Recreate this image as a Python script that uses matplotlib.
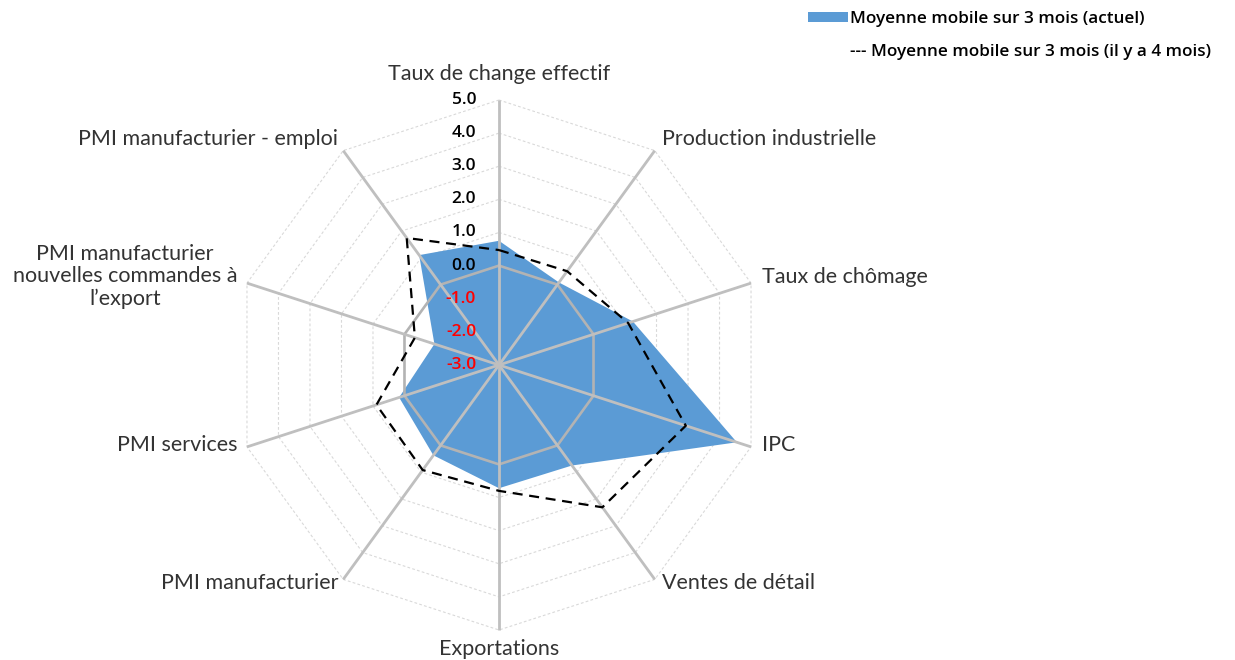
import numpy as np
import matplotlib
matplotlib.use("Agg")
import matplotlib.pyplot as plt
from matplotlib.patches import Patch
from matplotlib.lines import Line2D

# ---------------- data ----------------
categories = ["Taux de change effectif", "Production industrielle", "Taux de chômage", "IPC",
              "Ventes de détail", "Exportations", "PMI manufacturier", "PMI services",
              "PMI manufacturier\nnouvelles commandes à\nl’export", "PMI manufacturier - emploi"]
actuel = [0.75, 0.08, 1.25, 4.55, 0.75, 0.72, 0.37, 0.17, -0.95, 1.10]
il_y_a_4_mois = [0.47, 0.50, 1.10, 2.93, 2.31, 0.80, 0.92, 0.89, -0.33, 1.74]
ticks = [-3, -2, -1, 0, 1, 2, 3, 4, 5]
tick_labels = ["-3.0", "-2.0", "-1.0", "0.0", "1.0", "2.0", "3.0", "4.0", "5.0"]
series_labels = ["Moyenne mobile sur 3 mois (actuel)",
                 "--- Moyenne mobile sur 3 mois (il y a 4 mois)"]

# ---------------- layout / style ----------------
RMIN, RMAX = -3, 5
W, H, DPI = 1235, 660, 100
CX, CY, RPIX = 499, 365, 265
scale = RPIX / (RMAX - RMIN)
LABEL_FONT = "Lato"
TEXT_FONT = "Open Sans"
BLUE = "#5B9BD5"
SPOKE = "#BFBFBF"

fig = plt.figure(figsize=(W / DPI, H / DPI), dpi=DPI)
ax = fig.add_axes([0, 0, 1, 1])
ax.set_xlim(-CX / scale, (W - CX) / scale)
ax.set_ylim(-(H - CY) / scale, CY / scale)
ax.axis("off")

n = len(categories)
theta = np.arange(n) * 2 * np.pi / n


def polar_xy(values):
    r = np.asarray(values, dtype=float) - RMIN
    return r * np.sin(theta), r * np.cos(theta)


def closed(a):
    return np.append(a, a[0])


# grid rings
for t in ticks[1:]:
    x, y = polar_xy([t] * n)
    if t == 0:
        ax.plot(closed(x), closed(y), color="#B3B3B3", lw=1.9, zorder=3)
    else:
        ax.plot(closed(x), closed(y), color="#D9D9D9", lw=0.8,
                linestyle=(0, (2.5, 2)), zorder=1)

# current series (filled)
x, y = polar_xy(actuel)
ax.fill(x, y, color=BLUE, zorder=2, lw=0)

# spokes
xe, ye = polar_xy([RMAX] * n)
for i in range(n):
    ax.plot([0, xe[i]], [0, ye[i]], color=SPOKE, lw=2.0, zorder=3,
            solid_capstyle="butt")

# series four months ago (dashed)
x, y = polar_xy(il_y_a_4_mois)
ax.plot(closed(x), closed(y), color="black", lw=1.6, linestyle=(0, (4.5, 3)),
        zorder=4)

# radial tick labels
for t, lab in zip(ticks, tick_labels):
    ax.annotate(lab, xy=(0, t - RMIN), xytext=(-23, 0), textcoords="offset pixels",
                ha="right", va="center", fontsize=12.5, fontweight="semibold",
                family=TEXT_FONT, color="red" if t < 0 else "black", zorder=5)

# category labels
offsets = [(0, 26, "center"), (7, 12, "left"), (11, 6, "left"), (11, 2, "left"),
           (7, -4, "left"), (0, -19, "center"), (-5, -4, "right"), (-9, 2, "right"),
           (-122, 7, "center"), (-5, 12, "right")]
for i, lab in enumerate(categories):
    dx, dy, ha = offsets[i]
    ax.annotate(lab, xy=(xe[i], ye[i]), xytext=(dx, dy), textcoords="offset pixels",
                ha=ha, va="center", multialignment="center", fontsize=15.5,
                fontweight="normal", family=LABEL_FONT, color="#333333",
                linespacing=1.15)

# legend
handles = [Patch(facecolor=BLUE, edgecolor="none"),
           Line2D([], [], color="none")]
fig.legend(handles, series_labels, loc="upper left",
           bbox_to_anchor=(808 / W, 1 - 11 / H), frameon=False,
           prop={"family": TEXT_FONT, "weight": "semibold", "size": 12.3},
           handlelength=2.35, handleheight=0.55, handletextpad=0.12,
           labelspacing=1.02, borderpad=0, borderaxespad=0)

fig.savefig("out.png", dpi=DPI)
